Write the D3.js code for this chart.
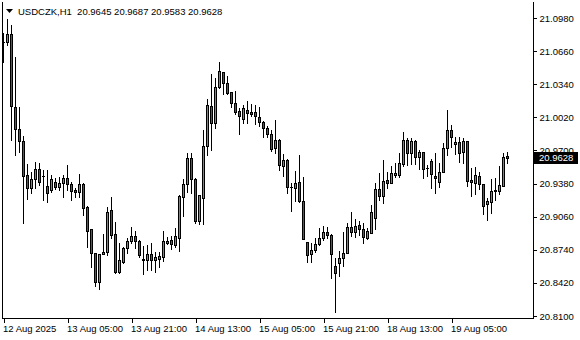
<!DOCTYPE html>
<html>
<head>
<meta charset="utf-8">
<script src="https://cdn.jsdelivr.net/npm/d3@7"></script>
<style>
  html, body { margin: 0; padding: 0; background: #fff; }
  svg { display: block; font-family: 'Liberation Sans', Arial, sans-serif; }
</style>
</head>
<body>
<svg width="580" height="340"></svg>
<script>
// USDCZK H1 bars, 12 Aug 2025 13:00 onwards
const openPrices = [
  21.0748, 21.0748, 21.0825, 21.0120, 20.9907, 20.9791, 20.9463, 20.9337, 20.9424, 20.9521,
  20.9453, 20.9356, 20.9318, 20.9395, 20.9347, 20.9385, 20.9434, 20.9376, 20.9318, 20.9298,
  20.9376, 20.9153, 20.8941, 20.8709, 20.8429, 20.8699, 20.8719, 20.9125, 20.8893, 20.8525,
  20.8622, 20.8757, 20.8825, 20.8873, 20.8825, 20.8651, 20.8641, 20.8699, 20.8641, 20.8651,
  20.8670, 20.8806, 20.8835, 20.8786, 20.8854, 20.9250, 20.9376, 20.9627, 20.9424, 20.9018,
  20.9240, 20.9743, 21.0130, 20.9965, 21.0313, 21.0458, 21.0352, 21.0265, 21.0159, 21.0081,
  21.0004, 21.0091, 21.0072, 21.0072, 21.0023, 20.9975, 20.9917, 20.9859, 20.9724, 20.9801,
  20.9550, 20.9608, 20.9347, 20.9337, 20.9395, 20.9211, 20.8815, 20.8699, 20.8738, 20.8796,
  20.8854, 20.8912, 20.8883, 20.8583, 20.8612, 20.8661, 20.8709, 20.8960, 20.8912, 20.8980,
  20.8941, 20.8854, 20.8902, 20.9047, 20.9327, 20.9260, 20.9414, 20.9385, 20.9463, 20.9463,
  20.9569, 20.9801, 20.9675, 20.9791, 20.9637, 20.9685, 20.9530, 20.9598, 20.9453, 20.9395,
  20.9492, 20.9724, 20.9898, 20.9762, 20.9782, 20.9685, 20.9791, 20.9414, 20.9385, 20.9453,
  20.9376, 20.9182, 20.9202, 20.9308, 20.9308, 20.9356, 20.9645,
];
const highPrices = [
  21.0835, 21.0970, 21.0912, 21.0603, 21.0120, 20.9840, 20.9569, 20.9492, 20.9588, 20.9579,
  20.9511, 20.9511, 20.9463, 20.9434, 20.9443, 20.9463, 20.9559, 20.9395, 20.9337, 20.9472,
  20.9385, 20.9163, 20.8941, 20.8709, 20.8699, 20.8893, 20.9153, 20.9250, 20.9009, 20.8806,
  20.8767, 20.8854, 20.8960, 20.8922, 20.8835, 20.8777, 20.8786, 20.8806, 20.8719, 20.8719,
  20.8922, 20.8864, 20.8873, 20.8951, 20.9269, 20.9424, 20.9675, 20.9675, 20.9434, 20.9269,
  20.9898, 21.0197, 21.0439, 21.0400, 21.0555, 21.0458, 21.0419, 21.0265, 21.0275, 21.0111,
  21.0140, 21.0178, 21.0149, 21.0140, 21.0120, 20.9985, 20.9936, 20.9898, 20.9994, 20.9811,
  20.9666, 20.9617, 20.9385, 20.9501, 20.9656, 20.9443, 20.8815, 20.8806, 20.8854, 20.8951,
  20.8970, 20.8960, 20.8893, 20.8661, 20.8728, 20.8912, 20.8999, 20.9105, 20.9038, 20.9018,
  20.8999, 20.8951, 20.9173, 20.9385, 20.9482, 20.9608, 20.9492, 20.9550, 20.9579, 20.9675,
  20.9878, 20.9820, 20.9820, 20.9801, 20.9704, 20.9685, 20.9559, 20.9617, 20.9675, 20.9579,
  20.9772, 21.0091, 20.9946, 20.9830, 20.9830, 20.9820, 20.9791, 20.9530, 20.9540, 20.9492,
  20.9376, 20.9240, 20.9424, 20.9434, 20.9550, 20.9675, 20.9687,
];
const lowPrices = [
  21.0555, 21.0719, 20.9801, 20.9656, 20.9685, 20.8999, 20.9231, 20.9289, 20.9337, 20.9366,
  20.9221, 20.9202, 20.9298, 20.9327, 20.9318, 20.9250, 20.9318, 20.9221, 20.9250, 20.9250,
  20.9076, 20.8767, 20.8574, 20.8390, 20.8361, 20.8699, 20.8690, 20.8854, 20.8516, 20.8516,
  20.8612, 20.8709, 20.8806, 20.8757, 20.8670, 20.8506, 20.8545, 20.8545, 20.8525, 20.8574,
  20.8632, 20.8796, 20.8748, 20.8767, 20.8728, 20.9067, 20.9298, 20.9289, 20.8999, 20.8989,
  20.8989, 20.9656, 20.9704, 20.9917, 21.0304, 21.0246, 21.0246, 21.0120, 21.0052, 20.9859,
  20.9965, 20.9965, 21.0033, 20.9956, 20.9936, 20.9830, 20.9830, 20.9695, 20.9675, 20.9511,
  20.9453, 20.9289, 20.9115, 20.9211, 20.9202, 20.8844, 20.8622, 20.8622, 20.8719, 20.8786,
  20.8835, 20.8854, 20.8467, 20.8139, 20.8487, 20.8583, 20.8709, 20.8873, 20.8864, 20.8883,
  20.8806, 20.8844, 20.8902, 20.8941, 20.9221, 20.9192, 20.9337, 20.9385, 20.9443, 20.9443,
  20.9550, 20.9559, 20.9569, 20.9569, 20.9521, 20.9434, 20.9453, 20.9337, 20.9289, 20.9347,
  20.9492, 20.9656, 20.9733, 20.9666, 20.9588, 20.9579, 20.9356, 20.9260, 20.9279, 20.9327,
  20.9086, 20.9028, 20.9096, 20.9221, 20.9279, 20.9356, 20.9583,
];
const closePrices = [
  21.0748, 21.0825, 21.0130, 20.9907, 20.9791, 20.9453, 20.9337, 20.9424, 20.9521, 20.9395,
  20.9453, 20.9289, 20.9424, 20.9347, 20.9385, 20.9434, 20.9376, 20.9308, 20.9298, 20.9376,
  20.9144, 20.8922, 20.8709, 20.8429, 20.8699, 20.8719, 20.9105, 20.8883, 20.8525, 20.8641,
  20.8757, 20.8825, 20.8873, 20.8825, 20.8690, 20.8641, 20.8699, 20.8641, 20.8670, 20.8680,
  20.8825, 20.8825, 20.8796, 20.8873, 20.9260, 20.9376, 20.9627, 20.9424, 20.9018, 20.9269,
  20.9743, 21.0140, 20.9965, 21.0313, 21.0468, 21.0352, 21.0255, 21.0159, 21.0072, 21.0033,
  21.0111, 21.0062, 21.0052, 21.0033, 20.9975, 20.9917, 20.9859, 20.9714, 20.9801, 20.9559,
  20.9608, 20.9347, 20.9347, 20.9385, 20.9211, 20.8844, 20.8690, 20.8738, 20.8796, 20.8854,
  20.8912, 20.8883, 20.8699, 20.8516, 20.8661, 20.8709, 20.8960, 20.8912, 20.8970, 20.8941,
  20.8864, 20.8922, 20.9105, 20.9327, 20.9260, 20.9405, 20.9385, 20.9482, 20.9482, 20.9579,
  20.9801, 20.9675, 20.9791, 20.9637, 20.9685, 20.9521, 20.9530, 20.9472, 20.9434, 20.9492,
  20.9724, 20.9898, 20.9830, 20.9782, 20.9675, 20.9791, 20.9405, 20.9395, 20.9463, 20.9376,
  20.9163, 20.9211, 20.9308, 20.9318, 20.9366, 20.9637, 20.9628,
];

const priceTicks = [20.8100, 20.8420, 20.8740, 20.9060, 20.9380, 20.9700, 21.0020, 21.0340, 21.0660, 21.0980];
const timeLabels = ['12 Aug 2025', '13 Aug 05:00', '13 Aug 21:00', '14 Aug 13:00',
  '15 Aug 05:00', '15 Aug 21:00', '18 Aug 13:00', '19 Aug 05:00'];
const barsPerLabel = 16;
const symbolTitle = 'USDCZK,H1';

const bars = openPrices.map((o, i) => ({
  i,
  o,
  h: highPrices[i],
  l: lowPrices[i],
  c: closePrices[i],
}));
const last = bars[bars.length - 1];

const svg = d3.select('svg');
const font = "'Liberation Sans', Arial, sans-serif";
const fontSize = '9.5px';

const frame = { left: 2, right: 533, top: 2, bottom: 318 };

const x = d3.scaleLinear()
  .domain([0, bars.length - 1])
  .range([3, 3 + 4 * (bars.length - 1)]);

const y = d3.scaleLinear()
  .domain([priceTicks[0], priceTicks[priceTicks.length - 1]])
  .range([316, 18]);

const px = (v) => Math.round(v);

// frame
svg.append('path')
  .attr('d', `M${frame.left + 0.5},${frame.top}V${frame.bottom + 0.5}H${frame.right + 0.5}V${frame.top}`)
  .attr('fill', 'none')
  .attr('stroke', '#000')
  .attr('shape-rendering', 'crispEdges');

// candles
const candle = svg.append('g')
  .attr('class', 'candles')
  .attr('shape-rendering', 'crispEdges')
  .selectAll('g')
  .data(bars)
  .enter()
  .append('g');

candle.append('line')
  .attr('x1', (d) => px(x(d.i)) + 0.5)
  .attr('x2', (d) => px(x(d.i)) + 0.5)
  .attr('y1', (d) => px(y(d.h)))
  .attr('y2', (d) => px(y(d.l)) + 1)
  .attr('stroke', '#000');

candle.filter((d) => px(y(d.o)) !== px(y(d.c)))
  .append('rect')
  .attr('x', (d) => px(x(d.i)) - 0.5)
  .attr('y', (d) => px(y(Math.max(d.o, d.c))) + 0.5)
  .attr('width', 2)
  .attr('height', (d) => px(y(Math.min(d.o, d.c))) - px(y(Math.max(d.o, d.c))))
  .attr('fill', (d) => (d.c > d.o ? '#3cb43c' : '#e01e1e'))
  .attr('stroke', '#000');

candle.filter((d) => px(y(d.o)) === px(y(d.c)))
  .append('line')
  .attr('x1', (d) => px(x(d.i)) - 1)
  .attr('x2', (d) => px(x(d.i)) + 2)
  .attr('y1', (d) => px(y(d.c)) + 0.5)
  .attr('y2', (d) => px(y(d.c)) + 0.5)
  .attr('stroke', '#000');

// price axis
const yAxis = svg.append('g')
  .attr('transform', `translate(${frame.right + 0.5},0)`)
  .call(d3.axisRight(y)
    .tickValues(priceTicks)
    .tickSize(3)
    .tickPadding(3)
    .tickFormat(d3.format('.4f')));
yAxis.select('.domain').remove();
yAxis.selectAll('line').attr('shape-rendering', 'crispEdges');
yAxis.selectAll('text')
  .attr('font-family', font)
  .attr('font-size', fontSize)
  .attr('fill', '#000');

// time axis
const timeIdx = timeLabels.map((t, k) => k * barsPerLabel);
const xAxis = svg.append('g')
  .attr('transform', `translate(0.5,${frame.bottom + 0.5})`)
  .call(d3.axisBottom(x)
    .tickValues(timeIdx)
    .tickSize(4)
    .tickPadding(3)
    .tickFormat((d, k) => timeLabels[k]));
xAxis.select('.domain').remove();
xAxis.selectAll('line').attr('shape-rendering', 'crispEdges');
xAxis.selectAll('text')
  .attr('text-anchor', 'start')
  .attr('dx', -1)
  .attr('font-family', font)
  .attr('font-size', fontSize)
  .attr('fill', '#000');

// current price marker
const lastY = px(y(last.c));
svg.append('rect')
  .attr('x', frame.right + 1)
  .attr('y', lastY - 6)
  .attr('width', 44)
  .attr('height', 12)
  .attr('fill', '#000');
svg.append('text')
  .attr('x', frame.right + 6)
  .attr('y', lastY)
  .attr('dy', '0.35em')
  .attr('font-family', font)
  .attr('font-size', fontSize)
  .attr('fill', '#fff')
  .text(d3.format('.4f')(last.c));

// header
svg.append('path')
  .attr('d', 'M6,9L13,9L9.5,13Z')
  .attr('fill', '#000');
svg.append('text')
  .attr('x', 18)
  .attr('y', 15)
  .attr('font-family', font)
  .attr('font-size', fontSize)
  .attr('fill', '#000')
  .style('white-space', 'pre')
  .text(`${symbolTitle}  ${[last.o, last.h, last.l, last.c].map(d3.format('.4f')).join(' ')}`);
</script>
</body>
</html>
